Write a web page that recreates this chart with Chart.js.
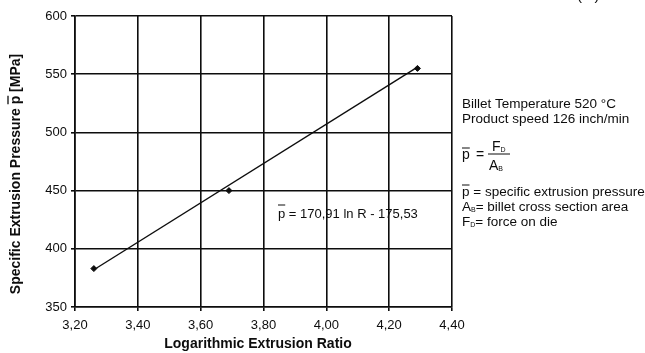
<!DOCTYPE html>
<html>
<head>
<meta charset="utf-8">
<script src="https://cdn.jsdelivr.net/npm/chart.js@4"></script>
<style>
  html, body { margin: 0; padding: 0; background: #fff; }
  #wrap { width: 645px; height: 353px; position: relative; }
</style>
</head>
<body>
<div id="wrap"><canvas id="chart" width="645" height="353"></canvas></div>
<script>
// measured points (ln R, p in MPa)
const lnR = [3.26, 3.69, 4.29];
const pressure = [383, 450, 555];
// regression line ends
const fitX = [3.26, 4.29];
const fitY = [382, 556];

const xTicks = [3.2, 3.4, 3.6, 3.8, 4.0, 4.2, 4.4];
const yTicks = [350, 400, 450, 500, 550, 600];

const FONT = '"Liberation Sans", Arial, sans-serif';
const INK = '#0d0d0d';

// "p" with a bar on top, returns its width
function pBar(ctx, x, y, font, barY) {
  ctx.font = font;
  ctx.fillText('p', x, y);
  const w = ctx.measureText('p').width;
  ctx.beginPath();
  ctx.lineWidth = 1;
  ctx.moveTo(x, barY);
  ctx.lineTo(x + w, barY);
  ctx.stroke();
  return w;
}

// letter with small subscript, returns total width
function subText(ctx, x, y, main, sub, size) {
  ctx.font = `${size}px ${FONT}`;
  ctx.fillText(main, x, y);
  const w = ctx.measureText(main).width;
  ctx.font = `7px ${FONT}`;
  ctx.fillText(sub, x + w, y + 1);
  return w + ctx.measureText(sub).width;
}

const notesPlugin = {
  id: 'notes',
  afterDraw(chart) {
    const ctx = chart.ctx;
    ctx.save();
    ctx.fillStyle = INK;
    ctx.strokeStyle = INK;
    ctx.textBaseline = 'alphabetic';
    ctx.textAlign = 'left';

    // cut-off label at the top edge
    ctx.font = `15px ${FONT}`;
    ctx.fillText('(   )', 577, 0);

    // regression annotation
    const f13 = `13px ${FONT}`;
    let w = pBar(ctx, 278, 218, f13, 205);
    ctx.font = f13;
    ctx.fillText(' = 170,91 ln R - 175,53', 278 + w, 218);

    // right-hand notes
    const f135 = `13.5px ${FONT}`;
    ctx.font = f135;
    ctx.fillText('Billet Temperature 520 °C', 462, 108);
    ctx.fillText('Product speed 126 inch/min', 462, 123);

    // p = F_D / A_B
    w = pBar(ctx, 462, 159, `14px ${FONT}`, 148);
    ctx.font = `14px ${FONT}`;
    ctx.fillText('=', 476, 159);
    ctx.beginPath();
    ctx.lineWidth = 1;
    ctx.moveTo(488, 154);
    ctx.lineTo(510, 154);
    ctx.stroke();
    subText(ctx, 492, 151, 'F', 'D', 14);
    subText(ctx, 489, 170, 'A', 'B', 14);

    // symbol legend
    w = pBar(ctx, 462, 196, f135, 185);
    ctx.font = f135;
    ctx.fillText(' = specific extrusion pressure', 462 + w, 196);
    w = subText(ctx, 462, 211, 'A', 'B', 13.5);
    ctx.font = f135;
    ctx.fillText('= billet cross section area', 462 + w, 211);
    w = subText(ctx, 462, 226, 'F', 'D', 13.5);
    ctx.font = f135;
    ctx.fillText('= force on die', 462 + w, 226);

    // axis titles
    ctx.font = `bold 14px ${FONT}`;
    ctx.textAlign = 'center';
    ctx.fillText('Logarithmic Extrusion Ratio', 258, 348);

    ctx.translate(20, 174);
    ctx.rotate(-Math.PI / 2);
    const title = 'Specific Extrusion Pressure p [MPa]';
    ctx.fillText(title, 0, 0);
    const total = ctx.measureText(title).width;
    const off = ctx.measureText('Specific Extrusion Pressure ').width;
    const pw = ctx.measureText('p').width;
    const sx = -total / 2 + off;
    ctx.beginPath();
    ctx.lineWidth = 1.3;
    ctx.moveTo(sx, -12);
    ctx.lineTo(sx + pw, -12);
    ctx.stroke();

    ctx.restore();
  }
};

new Chart(document.getElementById('chart'), {
  type: 'scatter',
  data: {
    datasets: [
      {
        label: 'fit',
        data: fitX.map((v, i) => ({ x: v, y: fitY[i] })),
        showLine: true,
        borderColor: INK,
        borderWidth: 1.4,
        pointRadius: 0,
        fill: false,
      },
      {
        label: 'measured',
        data: lnR.map((v, i) => ({ x: v, y: pressure[i] })),
        pointStyle: 'rectRot',
        pointRadius: 3,
        backgroundColor: INK,
        borderColor: INK,
        showLine: false,
      },
    ],
  },
  options: {
    responsive: false,
    animation: false,
    layout: { padding: { top: 16, right: 193, left: 0, bottom: 0 } },
    plugins: { legend: { display: false }, tooltip: { enabled: false } },
    scales: {
      x: {
        type: 'linear',
        min: 3.2,
        max: 4.4,
        afterBuildTicks: axis => { axis.ticks = xTicks.map(v => ({ value: v })); },
        afterFit: axis => { axis.height = 46; },
        ticks: {
          color: INK,
          font: { family: FONT, size: 13 },
          padding: 7,
          callback: v => v.toFixed(2).replace('.', ','),
        },
        grid: { color: INK, lineWidth: 1.6, tickLength: 4 },
        border: { color: INK, width: 1.6 },
      },
      y: {
        type: 'linear',
        min: 350,
        max: 600,
        afterBuildTicks: axis => { axis.ticks = yTicks.map(v => ({ value: v })); },
        afterFit: axis => { axis.width = 75; },
        ticks: {
          color: INK,
          font: { family: FONT, size: 13 },
          padding: 4,
        },
        grid: { color: INK, lineWidth: 1.6, tickLength: 4 },
        border: { color: INK, width: 1.6 },
      },
    },
  },
  plugins: [notesPlugin],
});
</script>
</body>
</html>
